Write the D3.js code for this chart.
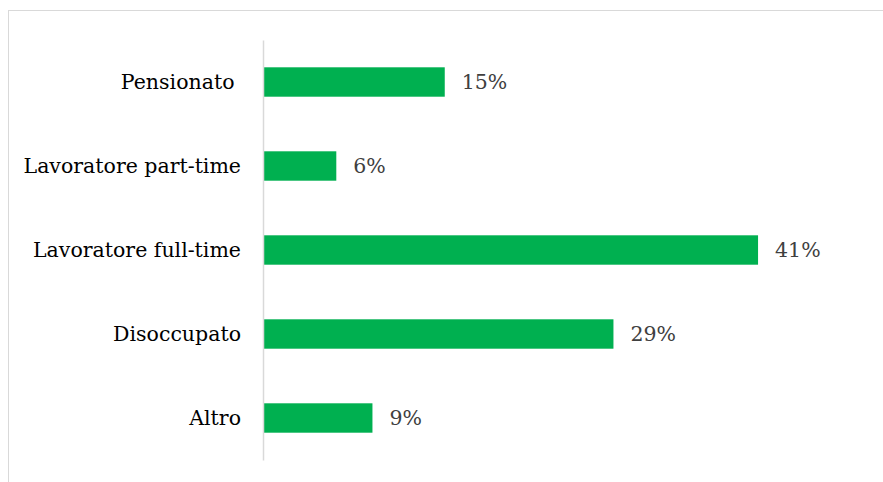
<!DOCTYPE html>
<html>
<head>
<meta charset="utf-8">
<script src="https://cdn.jsdelivr.net/npm/d3@7"></script>
<style>
  html, body { margin: 0; padding: 0; background: #fff; }
  svg { display: block; }
  text { font-family: "DejaVu Serif", "Liberation Serif", serif; }
</style>
</head>
<body>
<script>
// Condizione occupazionale (percentuali)
const categories = ["Pensionato ", "Lavoratore part-time", "Lavoratore full-time", "Disoccupato", "Altro"];
const values = [15, 6, 41, 29, 9];
const valueLabels = ["15%", "6%", "41%", "29%", "9%"];

const W = 883, H = 482;
const svg = d3.select("body").append("svg").attr("width", W).attr("height", H);

// outer frame
svg.append("rect")
  .attr("x", 8.5).attr("y", 10.5)
  .attr("width", W + 10).attr("height", H + 10)
  .attr("fill", "none").attr("stroke", "#d9d9d9").attr("stroke-width", 1);

const plotLeft = 264, plotTop = 40, plotBottom = 460;

const x = d3.scaleLinear().domain([0, 10]).range([plotLeft, plotLeft + 120.5]);
const y = d3.scaleBand().domain(categories).range([plotTop, plotBottom]).paddingInner(0.65).paddingOuter(0.325);

// bars
svg.selectAll("rect.bar").data(values).enter().append("rect")
  .attr("class", "bar")
  .attr("x", x(0))
  .attr("y", (d, i) => y(categories[i]))
  .attr("width", d => x(d) - x(0))
  .attr("height", y.bandwidth())
  .attr("fill", "#00b050");

// category axis
const axis = d3.axisLeft(y).tickSize(0).tickPadding(22);
const g = svg.append("g").attr("transform", `translate(${plotLeft - 1},0)`).call(axis);
g.select(".domain").attr("stroke", "#d9d9d9").attr("stroke-width", 1.5);
g.selectAll(".tick text")
  .attr("fill", "#000")
  .attr("xml:space", "preserve")
  .style("font-size", "20.5px")
  .style("font-family", "'DejaVu Serif', serif")
  .style("white-space", "pre");

// value labels
svg.selectAll("text.val").data(values).enter().append("text")
  .attr("class", "val")
  .attr("x", d => x(d) + 17)
  .attr("y", (d, i) => y(categories[i]) + y.bandwidth() / 2)
  .attr("dy", "0.36em")
  .attr("fill", "#404040")
  .style("font-size", "20.5px")
  .text((d, i) => valueLabels[i]);
</script>
</body>
</html>
